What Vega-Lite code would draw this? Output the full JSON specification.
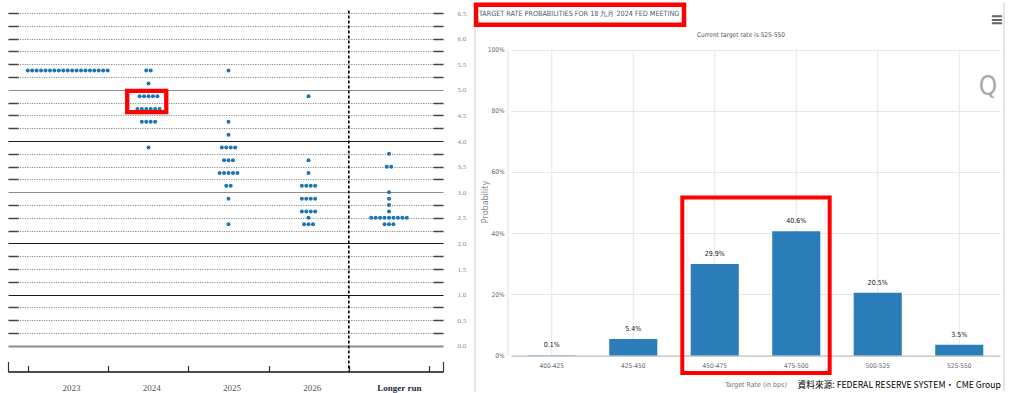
{
  "$schema": "https://vega.github.io/schema/vega-lite/v6.json",
  "padding": {"left": 7, "top": 1, "right": 0, "bottom": 0},
  "background": "white",
  "bounds": "flush",
  "spacing": 68,
  "config": {"view": {"stroke": null}},
  "datasets": {
    "one": [{}],
    "bars": [
      {"range": "400-425", "prob": 0.001},
      {"range": "425-450", "prob": 0.054},
      {"range": "450-475", "prob": 0.299},
      {"range": "475-500", "prob": 0.406},
      {"range": "500-525", "prob": 0.205},
      {"range": "525-550", "prob": 0.035}
    ],
    "dots": [
      {"year": "2023", "rate": 5.375}, {"year": "2023", "rate": 5.375}, {"year": "2023", "rate": 5.375}, {"year": "2023", "rate": 5.375},
      {"year": "2023", "rate": 5.375}, {"year": "2023", "rate": 5.375}, {"year": "2023", "rate": 5.375}, {"year": "2023", "rate": 5.375},
      {"year": "2023", "rate": 5.375}, {"year": "2023", "rate": 5.375}, {"year": "2023", "rate": 5.375}, {"year": "2023", "rate": 5.375},
      {"year": "2023", "rate": 5.375}, {"year": "2023", "rate": 5.375}, {"year": "2023", "rate": 5.375}, {"year": "2023", "rate": 5.375},
      {"year": "2023", "rate": 5.375}, {"year": "2023", "rate": 5.375}, {"year": "2023", "rate": 5.375},

      {"year": "2024", "rate": 5.375}, {"year": "2024", "rate": 5.375},
      {"year": "2024", "rate": 5.125},
      {"year": "2024", "rate": 4.875}, {"year": "2024", "rate": 4.875}, {"year": "2024", "rate": 4.875}, {"year": "2024", "rate": 4.875}, {"year": "2024", "rate": 4.875},
      {"year": "2024", "rate": 4.625}, {"year": "2024", "rate": 4.625}, {"year": "2024", "rate": 4.625}, {"year": "2024", "rate": 4.625}, {"year": "2024", "rate": 4.625}, {"year": "2024", "rate": 4.625},
      {"year": "2024", "rate": 4.375}, {"year": "2024", "rate": 4.375}, {"year": "2024", "rate": 4.375}, {"year": "2024", "rate": 4.375},
      {"year": "2024", "rate": 3.875},

      {"year": "2025", "rate": 5.375},
      {"year": "2025", "rate": 4.375},
      {"year": "2025", "rate": 4.125},
      {"year": "2025", "rate": 3.875}, {"year": "2025", "rate": 3.875}, {"year": "2025", "rate": 3.875}, {"year": "2025", "rate": 3.875},
      {"year": "2025", "rate": 3.625}, {"year": "2025", "rate": 3.625}, {"year": "2025", "rate": 3.625},
      {"year": "2025", "rate": 3.375}, {"year": "2025", "rate": 3.375}, {"year": "2025", "rate": 3.375}, {"year": "2025", "rate": 3.375}, {"year": "2025", "rate": 3.375},
      {"year": "2025", "rate": 3.125}, {"year": "2025", "rate": 3.125},
      {"year": "2025", "rate": 2.875},
      {"year": "2025", "rate": 2.375},

      {"year": "2026", "rate": 4.875},
      {"year": "2026", "rate": 3.625},
      {"year": "2026", "rate": 3.375},
      {"year": "2026", "rate": 3.125}, {"year": "2026", "rate": 3.125}, {"year": "2026", "rate": 3.125}, {"year": "2026", "rate": 3.125},
      {"year": "2026", "rate": 2.875}, {"year": "2026", "rate": 2.875}, {"year": "2026", "rate": 2.875}, {"year": "2026", "rate": 2.875},
      {"year": "2026", "rate": 2.625}, {"year": "2026", "rate": 2.625}, {"year": "2026", "rate": 2.625}, {"year": "2026", "rate": 2.625},
      {"year": "2026", "rate": 2.5},
      {"year": "2026", "rate": 2.375}, {"year": "2026", "rate": 2.375}, {"year": "2026", "rate": 2.375},

      {"year": "Longer run", "rate": 3.75},
      {"year": "Longer run", "rate": 3.5}, {"year": "Longer run", "rate": 3.5},
      {"year": "Longer run", "rate": 3.0},
      {"year": "Longer run", "rate": 2.875},
      {"year": "Longer run", "rate": 2.75},
      {"year": "Longer run", "rate": 2.625},
      {"year": "Longer run", "rate": 2.5}, {"year": "Longer run", "rate": 2.5}, {"year": "Longer run", "rate": 2.5}, {"year": "Longer run", "rate": 2.5}, {"year": "Longer run", "rate": 2.5},
      {"year": "Longer run", "rate": 2.5}, {"year": "Longer run", "rate": 2.5}, {"year": "Longer run", "rate": 2.5}, {"year": "Longer run", "rate": 2.5},
      {"year": "Longer run", "rate": 2.375}, {"year": "Longer run", "rate": 2.375}, {"year": "Longer run", "rate": 2.375}
    ]
  },
  "hconcat": [
    {
      "width": 435,
      "height": 358.5,
      "layer": [
        {
          "data": {"name": "one"},
          "mark": {"type": "rule", "stroke": "#000000", "strokeWidth": 1.6, "strokeDash": [3, 2]},
          "encoding": {
            "x": {"datum": 4, "type": "quantitative", "scale": {"domain": [-0.2494, 5.1746], "nice": false, "zero": false}, "axis": null},
            "y": {"datum": 6.55, "type": "quantitative", "scale": {"domain": [-0.5, 6.5], "nice": false, "zero": false},
              "axis": {
                "orient": "left", "values": [0, 0.25, 0.5, 0.75, 1, 1.25, 1.5, 1.75, 2, 2.25, 2.5, 2.75, 3, 3.25, 3.5, 3.75, 4, 4.25, 4.5, 4.75, 5, 5.25, 5.5, 5.75, 6, 6.25, 6.5],
                "grid": false, "domain": false, "labels": false, "ticks": true, "tickSize": -10, "tickColor": "#444444", "tickWidth": 1.5,
                "tickOpacity": {"condition": {"test": "datum.value % 1 === 0 && datum.value < 6", "value": 0}, "value": 1},
                "title": null, "minExtent": 0, "maxExtent": 0
              }
            },
            "y2": {"datum": -0.5}
          }
        },
        {
          "data": {"name": "dots"},
          "transform": [{"filter": "datum.year === '2023'"}, {"window": [{"op": "row_number", "as": "id"}]}],
          "mark": {"type": "circle", "size": 16, "opacity": 1, "color": "#1b76b3"},
          "encoding": {
            "x": {"aggregate": "count", "type": "quantitative", "stack": "center", "scale": {"domain": [-3.446, 94.53], "nice": false, "zero": false}, "axis": null},
            "y": {"field": "rate", "type": "quantitative", "scale": {"domain": [-0.5, 6.5], "nice": false, "zero": false}, "axis": null},
            "detail": {"field": "id", "type": "quantitative"}
          }
        },
        {
          "data": {"name": "dots"},
          "transform": [{"filter": "datum.year === '2024'"}, {"window": [{"op": "row_number", "as": "id"}]}],
          "mark": {"type": "circle", "size": 16, "opacity": 1, "color": "#1b76b3"},
          "encoding": {
            "x": {"aggregate": "count", "type": "quantitative", "stack": "center", "scale": {"domain": [-28.144, 69.83], "nice": false, "zero": false}, "axis": null},
            "y": {"field": "rate", "type": "quantitative", "scale": {"domain": [-0.5, 6.5], "nice": false, "zero": false}, "axis": null},
            "detail": {"field": "id", "type": "quantitative"}
          }
        },
        {
          "data": {"name": "dots"},
          "transform": [{"filter": "datum.year === '2025'"}, {"window": [{"op": "row_number", "as": "id"}]}],
          "mark": {"type": "circle", "size": 16, "opacity": 1, "color": "#1b76b3"},
          "encoding": {
            "x": {"aggregate": "count", "type": "quantitative", "stack": "center", "scale": {"domain": [-46.662, 51.311], "nice": false, "zero": false}, "axis": null},
            "y": {"field": "rate", "type": "quantitative", "scale": {"domain": [-0.5, 6.5], "nice": false, "zero": false}, "axis": null},
            "detail": {"field": "id", "type": "quantitative"}
          }
        },
        {
          "data": {"name": "dots"},
          "transform": [{"filter": "datum.year === '2026'"}, {"window": [{"op": "row_number", "as": "id"}]}],
          "mark": {"type": "circle", "size": 16, "opacity": 1, "color": "#1b76b3"},
          "encoding": {
            "x": {"aggregate": "count", "type": "quantitative", "stack": "center", "scale": {"domain": [-65.18, 32.79], "nice": false, "zero": false}, "axis": null},
            "y": {"field": "rate", "type": "quantitative", "scale": {"domain": [-0.5, 6.5], "nice": false, "zero": false}, "axis": null},
            "detail": {"field": "id", "type": "quantitative"}
          }
        },
        {
          "data": {"name": "dots"},
          "transform": [{"filter": "datum.year === 'Longer run'"}, {"window": [{"op": "row_number", "as": "id"}]}],
          "mark": {"type": "circle", "size": 16, "opacity": 1, "color": "#1b76b3"},
          "encoding": {
            "x": {"aggregate": "count", "type": "quantitative", "stack": "center", "scale": {"domain": [-80.81, 17.16], "nice": false, "zero": false}, "axis": null},
            "y": {"field": "rate", "type": "quantitative", "scale": {"domain": [-0.5, 6.5], "nice": false, "zero": false}, "axis": null},
            "detail": {"field": "id", "type": "quantitative"}
          }
        },
        {
          "data": {"name": "one"},
          "mark": {"type": "rect", "fill": "transparent", "stroke": "#ff0000", "strokeWidth": 4.3},
          "encoding": {
            "x": {"datum": 1.237, "type": "quantitative", "scale": {"domain": [-0.2494, 5.1746], "nice": false, "zero": false},
              "axis": {
                "orient": "bottom",
                "values": [-0.2494, 0, 0.5, 1, 1.5, 2, 2.5, 3, 3.5, 4, 4.5, 5, 5.1746],
                "grid": false, "domain": true, "domainColor": "#111111", "domainWidth": 1.5,
                "ticks": true, "tickColor": "#333333", "tickWidth": 1.2,
                "tickSize": {"condition": {"test": "datum.value < -0.1 || datum.value > 5.1", "value": -10}, "value": -6},
                "tickOpacity": {"condition": {"test": "datum.value % 1 !== 0 && datum.value > -0.1 && datum.value < 5.1", "value": 0}, "value": 1},
                "labelExpr": "datum.value === 0.5 ? '2023' : datum.value === 1.5 ? '2024' : datum.value === 2.5 ? '2025' : datum.value === 3.5 ? '2026' : datum.value === 4.5 ? 'Longer run' : ''",
                "labelFont": "Liberation Serif", "labelFontSize": 9,
                "labelColor": {"condition": {"test": "datum.value === 4.5", "value": "#1c2a4a"}, "value": "#555555"},
                "labelFontWeight": {"condition": {"test": "datum.value === 4.5", "value": "bold"}, "value": "normal"},
                "labelOffset": {"condition": {"test": "datum.value === 4.5", "value": 10}, "value": 3},
                "labelPadding": 18, "labelFlush": false, "labelOverlap": false, "labelBound": false,
                "title": null
              }
            },
            "x2": {"datum": 1.724},
            "y": {"datum": 4.98, "type": "quantitative", "scale": {"domain": [-0.5, 6.5], "nice": false, "zero": false},
              "axis": {
                "orient": "right",
                "values": [0, 0.25, 0.5, 0.75, 1, 1.25, 1.5, 1.75, 2, 2.25, 2.5, 2.75, 3, 3.25, 3.5, 3.75, 4, 4.25, 4.5, 4.75, 5, 5.25, 5.5, 5.75, 6, 6.25, 6.5],
                "grid": true,
                "gridColor": {"condition": {"test": "datum.value === 4 || datum.value === 2 || datum.value === 1", "value": "#1a1a1a"}, "value": "#8c8c8c"},
                "gridDash": {"condition": {"test": "datum.value % 1 === 0 && datum.value < 6", "value": []}, "value": [1.2, 1.2]},
                "gridWidth": {"condition": {"test": "datum.value === 0", "value": 1.8}, "value": 1},
                "domain": false, "ticks": true, "tickSize": -10, "tickColor": "#444444", "tickWidth": 1.5,
                "tickOpacity": {"condition": {"test": "datum.value % 1 === 0 && datum.value < 6", "value": 0}, "value": 1},
                "labelExpr": "datum.value % 0.5 === 0 ? format(datum.value, '.1f') : ''",
                "labelFont": "Liberation Serif", "labelFontSize": 7, "labelColor": "#888888",
                "labelPadding": 24, "labelOverlap": false, "labelFlush": false, "labelBound": false,
                "title": null
              }
            },
            "y2": {"datum": 4.566}
          }
        }
      ],
      "resolve": {"scale": {"x": "independent"}, "axis": {"x": "independent", "y": "independent"}}
    },
    {
      "width": 489,
      "height": 342.5,
      "layer": [
        {
          "data": {"name": "bars"},
          "mark": {"type": "rule", "stroke": "#e6e6e6", "strokeWidth": 1},
          "encoding": {
            "x": {"field": "range", "type": "nominal", "sort": null, "scale": {"paddingInner": 0.41, "paddingOuter": 0.205}, "axis": null},
            "y": {"datum": 0, "type": "quantitative", "scale": {"domain": [0, 1.1193], "nice": false, "zero": false}, "axis": null},
            "y2": {"datum": 1}
          }
        },
        {
          "data": {"name": "bars"},
          "mark": {"type": "bar", "color": "#2b7db9"},
          "encoding": {
            "x": {"field": "range", "type": "nominal", "sort": null, "scale": {"paddingInner": 0.41, "paddingOuter": 0.205},
              "axis": {
                "orient": "bottom", "title": "Target Rate (in bps)", "labelAngle": 0, "ticks": false, "grid": false,
                "domain": true, "domainColor": "#b5b5b5", "domainWidth": 1,
                "labelFont": "DejaVu Sans Condensed", "labelFontSize": 6.5, "labelColor": "#666666", "labelPadding": 7,
                "titleFont": "DejaVu Sans Condensed", "titleFontSize": 7, "titleFontWeight": "normal", "titleColor": "#777777", "titlePadding": 11
              }
            },
            "y": {"field": "prob", "type": "quantitative", "scale": {"domain": [0, 1.1193], "nice": false, "zero": false},
              "axis": {
                "orient": "left", "values": [0, 0.2, 0.4, 0.6, 0.8, 1], "format": ".0%",
                "grid": true, "gridColor": "#e6e6e6", "domain": false, "ticks": false,
                "labelFont": "DejaVu Sans Condensed", "labelFontSize": 6.5, "labelColor": "#666666", "labelPadding": 7,
                "title": "Probability", "titleFont": "DejaVu Sans", "titleFontSize": 8, "titleFontWeight": "normal", "titleColor": "#888888",
                "titleX": -26, "titleY": 188.5, "titleAngle": -90, "titleAlign": "center", "titleBaseline": "middle",
                "minExtent": 0
              }
            }
          }
        },
        {
          "data": {"name": "bars"},
          "mark": {"type": "text", "baseline": "middle", "dy": -10, "font": "DejaVu Sans Condensed", "fontSize": 7, "color": "#111111"},
          "encoding": {
            "x": {"field": "range", "type": "nominal", "sort": null, "scale": {"paddingInner": 0.41, "paddingOuter": 0.205}, "axis": null},
            "y": {"field": "prob", "type": "quantitative", "scale": {"domain": [0, 1.1193], "nice": false, "zero": false}, "axis": null},
            "text": {"field": "prob", "type": "quantitative", "format": ".1%"}
          }
        },
        {
          "data": {"name": "one"},
          "mark": {"type": "rule", "stroke": "#e0e0e0", "strokeWidth": 1},
          "encoding": {
            "x": {"datum": -0.037, "type": "quantitative", "scale": {"domain": [0, 6], "nice": false, "zero": false}, "axis": null},
            "y": {"datum": 0, "type": "quantitative", "scale": {"domain": [0, 1.1193], "nice": false, "zero": false}, "axis": null},
            "y2": {"datum": 1}
          }
        },
        {
          "data": {"name": "one"},
          "mark": {"type": "rule", "stroke": "#cccccc", "strokeWidth": 1},
          "encoding": {
            "x": {"datum": -0.442, "type": "quantitative", "scale": {"domain": [0, 6], "nice": false, "zero": false}, "axis": null},
            "y": {"datum": 1.07, "type": "quantitative", "scale": {"domain": [0, 1.1193], "nice": false, "zero": false}, "axis": null},
            "y2": {"datum": -0.118}
          }
        },
        {
          "data": {"name": "one"},
          "mark": {"type": "rule", "stroke": "#cccccc", "strokeWidth": 1},
          "encoding": {
            "x": {"datum": 6.049, "type": "quantitative", "scale": {"domain": [0, 6], "nice": false, "zero": false}, "axis": null},
            "y": {"datum": 1.155, "type": "quantitative", "scale": {"domain": [0, 1.1193], "nice": false, "zero": false}, "axis": null},
            "y2": {"datum": -0.118}
          }
        },
        {
          "data": {"name": "one"},
          "mark": {"type": "text", "text": "TARGET RATE PROBABILITIES FOR 18 九月 2024 FED MEETING", "align": "left", "baseline": "middle", "font": "DejaVu Sans Condensed", "fontSize": 7.2, "color": "#4a5a78"},
          "encoding": {
            "x": {"datum": -0.393, "type": "quantitative", "scale": {"domain": [0, 6], "nice": false, "zero": false}, "axis": null},
            "y": {"datum": 1.1144, "type": "quantitative", "scale": {"domain": [0, 1.1193], "nice": false, "zero": false}, "axis": null}
          }
        },
        {
          "data": {"name": "one"},
          "mark": {"type": "text", "text": "Current target rate is 525-550", "align": "center", "baseline": "middle", "font": "DejaVu Sans Condensed", "fontSize": 6.5, "color": "#555555"},
          "encoding": {
            "x": {"datum": 2.822, "type": "quantitative", "scale": {"domain": [0, 6], "nice": false, "zero": false}, "axis": null},
            "y": {"datum": 1.049, "type": "quantitative", "scale": {"domain": [0, 1.1193], "nice": false, "zero": false}, "axis": null}
          }
        },
        {
          "data": {"name": "one"},
          "mark": {"type": "text", "text": "Q", "align": "center", "baseline": "middle", "font": "DejaVu Sans Condensed", "fontSize": 26, "color": "#a8a8a8"},
          "encoding": {
            "x": {"datum": 5.853, "type": "quantitative", "scale": {"domain": [0, 6], "nice": false, "zero": false}, "axis": null},
            "y": {"datum": 0.879, "type": "quantitative", "scale": {"domain": [0, 1.1193], "nice": false, "zero": false}, "axis": null}
          }
        },
        {
          "data": {"name": "one"},
          "mark": {"type": "text", "text": "≡", "align": "center", "baseline": "middle", "font": "DejaVu Sans", "fontSize": 16, "fontWeight": "bold", "color": "#666666"},
          "encoding": {
            "x": {"datum": 5.96, "type": "quantitative", "scale": {"domain": [0, 6], "nice": false, "zero": false}, "axis": null},
            "y": {"datum": 1.0948, "type": "quantitative", "scale": {"domain": [0, 1.1193], "nice": false, "zero": false}, "axis": null}
          }
        },
        {
          "data": {"name": "one"},
          "mark": {"type": "text", "text": "資料來源: FEDERAL RESERVE SYSTEM・ CME Group", "align": "right", "baseline": "middle", "font": "Noto Sans CJK TC", "fontSize": 8.7, "color": "#000000"},
          "encoding": {
            "x": {"datum": 6.012, "type": "quantitative", "scale": {"domain": [0, 6], "nice": false, "zero": false}, "axis": null},
            "y": {"datum": -0.0948, "type": "quantitative", "scale": {"domain": [0, 1.1193], "nice": false, "zero": false}, "axis": null}
          }
        },
        {
          "data": {"name": "one"},
          "mark": {"type": "rect", "fill": "transparent", "stroke": "#ff0000", "strokeWidth": 4.5},
          "encoding": {
            "x": {"datum": -0.429, "type": "quantitative", "scale": {"domain": [0, 6], "nice": false, "zero": false}, "axis": null},
            "x2": {"datum": 2.123},
            "y": {"datum": 1.1461, "type": "quantitative", "scale": {"domain": [0, 1.1193], "nice": false, "zero": false}, "axis": null},
            "y2": {"datum": 1.081}
          }
        },
        {
          "data": {"name": "one"},
          "mark": {"type": "rect", "fill": "transparent", "stroke": "#ff0000", "strokeWidth": 4},
          "encoding": {
            "x": {"datum": 2.102, "type": "quantitative", "scale": {"domain": [0, 6], "nice": false, "zero": false}, "axis": null},
            "x2": {"datum": 3.91},
            "y": {"datum": 0.5163, "type": "quantitative", "scale": {"domain": [0, 1.1193], "nice": false, "zero": false}, "axis": null},
            "y2": {"datum": -0.0572}
          }
        }
      ],
      "resolve": {"scale": {"x": "independent"}, "axis": {"x": "independent", "y": "independent"}}
    }
  ]
}
